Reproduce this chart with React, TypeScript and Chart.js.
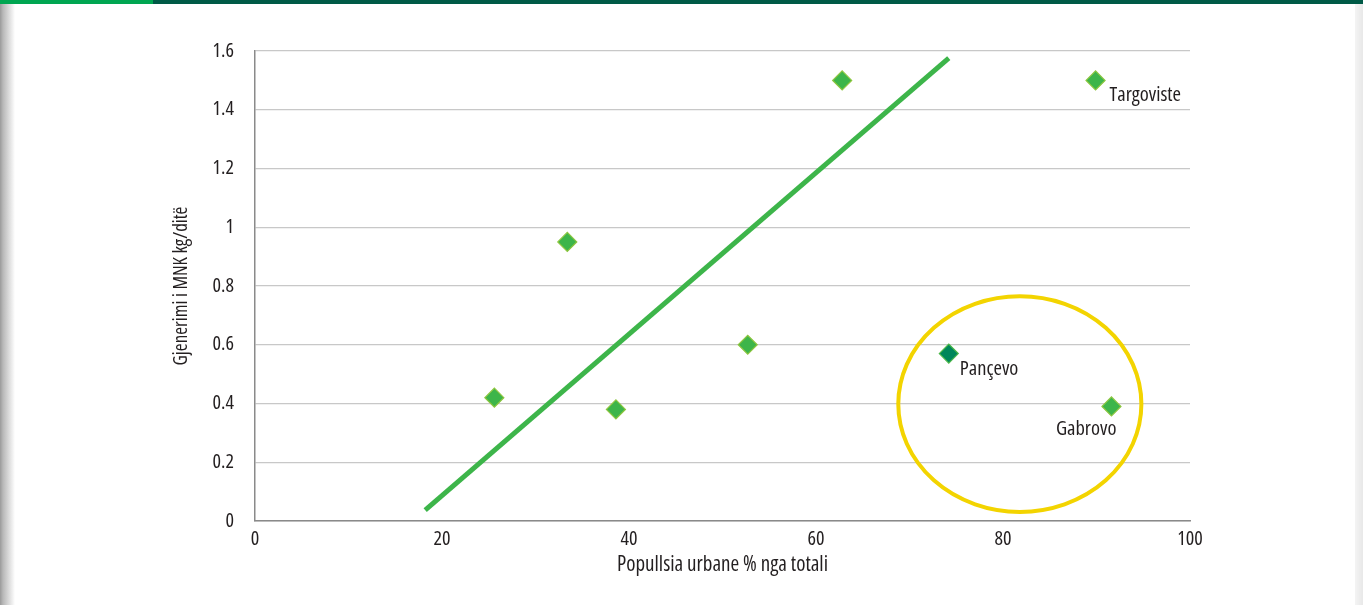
import React, { useEffect, useRef } from "react";
import { Chart, registerables } from "chart.js";

Chart.register(...registerables);

// ---- data ----
const urbanPct = [25.6, 33.4, 38.6, 52.7, 62.8, 89.9, 91.6];
const wasteKgDay = [0.42, 0.95, 0.38, 0.6, 1.5, 1.5, 0.39];
const pancevoPct = [74.2];
const pancevoKg = [0.57];
const trendPct = [18.2, 74.2];
const trendKg = [0.037, 1.576];
const labelNames = ["Targoviste", "Pançevo", "Gabrovo"];
const labelPct = [89.9, 74.2, 91.6];
const labelKg = [1.5, 0.57, 0.39];
const circleCenterPct = 81.8;
const circleCenterKg = 0.398;
const circleRadiusPct = 13.0;
const circleRadiusKg = 0.367;
const xAxisTitle = "Popullsia urbane % nga totali";
const yAxisTitle = "Gjenerimi i MNK kg/ditë";

const FAMILY = "'Open Sans', Roboto, sans-serif";
const STRETCH = "condensed";
const TEXT = "#231f20";

const labelStyle = [
  { dx: 14, dy: 15, align: "left" as CanvasTextAlign },
  { dx: 11, dy: 16, align: "left" as CanvasTextAlign },
  { dx: 5, dy: 23, align: "right" as CanvasTextAlign },
];

const overlayPlugin = {
  id: "overlay",
  afterDatasetsDraw(chart: any) {
    const { ctx, scales } = chart;
    const xs = scales.x;
    const ys = scales.y;
    ctx.save();
    // highlight ellipse
    const cx = xs.getPixelForValue(circleCenterPct);
    const cy = ys.getPixelForValue(circleCenterKg);
    const rx = Math.abs(xs.getPixelForValue(circleCenterPct + circleRadiusPct) - cx);
    const ry = Math.abs(ys.getPixelForValue(circleCenterKg + circleRadiusKg) - cy);
    ctx.beginPath();
    ctx.ellipse(cx, cy, rx, ry, 0, 0, Math.PI * 2);
    ctx.strokeStyle = "#f3d400";
    ctx.lineWidth = 4;
    ctx.stroke();
    // point labels
    ctx.font = `${STRETCH} 20.5px ${FAMILY}`;
    ctx.fillStyle = TEXT;
    ctx.textBaseline = "middle";
    labelNames.forEach((name, i) => {
      const px = xs.getPixelForValue(labelPct[i]);
      const py = ys.getPixelForValue(labelKg[i]);
      const st = labelStyle[i];
      ctx.textAlign = st.align;
      ctx.fillText(name, px + st.dx, py + st.dy);
    });
    ctx.restore();
  },
};

export default function App() {
  const ref = useRef<HTMLCanvasElement | null>(null);

  useEffect(() => {
    if (!ref.current) return;
    // font-stretch passed through the weight slot of Chart.js' font string
    const tickFont = { size: 20, family: FAMILY, weight: STRETCH };
    const xTitleFont = { size: 21, family: FAMILY, weight: STRETCH };
    const yTitleFont = { size: 19, family: FAMILY, weight: STRETCH };
    const chart = new Chart(ref.current, {
      type: "scatter",
      data: {
        datasets: [
          {
            label: "trend",
            data: trendPct.map((x, i) => ({ x, y: trendKg[i] })),
            showLine: true,
            borderColor: "#3db54a",
            borderWidth: 5,
            pointRadius: 0,
            borderCapStyle: "butt",
          },
          {
            label: "cities",
            data: urbanPct.map((x, i) => ({ x, y: wasteKgDay[i] })),
            pointStyle: "rectRot",
            pointRadius: 9.5,
            backgroundColor: "#3db54a",
            borderColor: "#8dc63f",
            borderWidth: 1.2,
          },
          {
            label: "Pancevo",
            data: pancevoPct.map((x, i) => ({ x, y: pancevoKg[i] })),
            pointStyle: "rectRot",
            pointRadius: 9.5,
            backgroundColor: "#00875a",
            borderColor: "#4cb848",
            borderWidth: 1.2,
          },
        ],
      },
      options: {
        animation: false,
        responsive: false,
        devicePixelRatio: 1,
        layout: { padding: { top: 51, right: 173, left: 0, bottom: 0 } },
        plugins: {
          legend: { display: false },
          tooltip: { enabled: false },
        },
        scales: {
          x: {
            type: "linear",
            min: 0,
            max: 100,
            ticks: {
              stepSize: 20,
              padding: 6,
              color: TEXT,
              font: tickFont,
            },
            grid: { display: false, drawTicks: false },
            border: { display: true, color: "#8a8a8a", width: 1.5 },
            title: {
              display: true,
              text: xAxisTitle,
              color: TEXT,
              font: xTitleFont,
              padding: { top: 0, bottom: 27 },
            },
            afterFit: (s: any) => {
              s.height = 84;
            },
          },
          y: {
            type: "linear",
            min: 0,
            max: 1.6,
            ticks: {
              stepSize: 0.2,
              padding: 21,
              color: TEXT,
              font: tickFont,
              callback: (v: any) => String(Number(Number(v).toFixed(1))),
            },
            grid: { color: "#c8c8c8", lineWidth: 1.3, drawTicks: false },
            border: { display: true, color: "#8a8a8a", width: 1.5 },
            title: {
              display: true,
              text: yAxisTitle,
              color: TEXT,
              font: yTitleFont,
              padding: { top: 170, bottom: 0 },
            },
            afterFit: (s: any) => {
              s.width = 255;
            },
          },
        },
      },
      plugins: [overlayPlugin],
    } as any);
    return () => chart.destroy();
  }, []);

  return (
    <div
      style={{
        position: "fixed",
        left: 0,
        top: 0,
        width: 1363,
        height: 605,
        background: "#ffffff",
        overflow: "hidden",
      }}
    >
      <canvas ref={ref} width={1363} height={605} style={{ position: "absolute", left: 0, top: 0 }} />
      <div style={{ position: "absolute", left: 0, top: 0, width: 153, height: 4, background: "#00a651" }} />
      <div style={{ position: "absolute", left: 153, top: 0, width: 1210, height: 4, background: "#005a46" }} />
      <div
        style={{
          position: "absolute",
          left: 0,
          top: 4,
          width: 15,
          height: 601,
          background: "linear-gradient(to right, #9a9a9a 0px, #b8b8b8 3px, #ffffff 15px)",
        }}
      />
      <div
        style={{
          position: "absolute",
          left: 1355,
          top: 4,
          width: 8,
          height: 601,
          background: "linear-gradient(to right, #f4f4f4, #e8e8e8)",
        }}
      />
    </div>
  );
}
